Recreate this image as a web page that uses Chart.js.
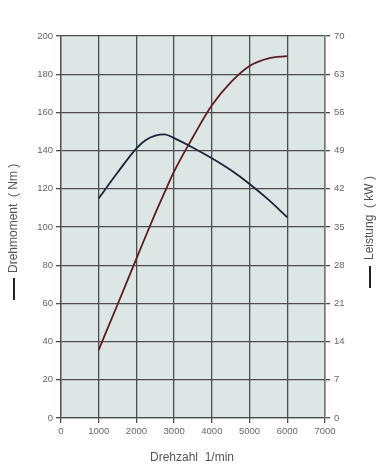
<!DOCTYPE html>
<html>
<head>
<meta charset="utf-8">
<script src="https://cdn.jsdelivr.net/npm/chart.js@4.4.0/dist/chart.umd.min.js"></script>
<style>
  html, body { margin: 0; padding: 0; background: #fff; }
  #wrap { width: 386px; height: 467px; }
</style>
</head>
<body>
<div id="wrap"><canvas id="motorChart" width="386" height="467"></canvas></div>
<script>
// Drehzahl in 1/min
const rpm = [1000, 1500, 2000, 2250, 2500, 2750, 3000, 3500, 4000, 4500, 5000, 5500, 6000];
// Drehmoment in Nm
const torque = [115, 128.5, 141.2, 145.5, 147.8, 148.5, 146.5, 141.5, 136, 129.8, 122.5, 114.3, 105];
// Leistung in kW
const power = [12.5, 20.8, 29.2, 33.4, 37.5, 41.4, 45.2, 51.5, 57.3, 61.5, 64.5, 65.9, 66.3];

const xTicks = [0, 1000, 2000, 3000, 4000, 5000, 6000, 7000];
const torqueTicks = [0, 20, 40, 60, 80, 100, 120, 140, 160, 180, 200];
const powerTicks = [0, 7, 14, 21, 28, 35, 42, 49, 56, 63, 70];

const tickFont = { family: 'Liberation Sans, Arial, sans-serif', size: 9.5 };
const tickColor = '#666';
const gridColor = '#4d4d4d';

function toPoints(ys) {
    return rpm.map((r, i) => ({ x: r, y: ys[i] }));
}

// background of the plot area and rotated axis titles
const decorPlugin = {
    id: 'decor',
    beforeDraw(chart) {
        const { ctx, chartArea: a } = chart;
        ctx.save();
        ctx.fillStyle = '#dce6e5';
        ctx.fillRect(a.left, a.top, a.right - a.left, a.bottom - a.top);
        ctx.restore();
    },
    afterDraw(chart) {
        const ctx = chart.ctx;
        ctx.save();
        ctx.fillStyle = '#555';
        ctx.strokeStyle = '#222';
        ctx.lineWidth = 2;
        ctx.font = '12px "Liberation Sans", Arial, sans-serif';

        // left title, reads bottom to top
        ctx.save();
        ctx.translate(18, 300);
        ctx.rotate(-Math.PI / 2);
        ctx.beginPath();
        ctx.moveTo(0, -4);
        ctx.lineTo(22, -4);
        ctx.stroke();
        ctx.textBaseline = 'middle';
        ctx.fillText('Drehmoment  ( Nm )', 27, -4);
        ctx.restore();

        // right title, reads bottom to top
        ctx.save();
        ctx.translate(374, 288);
        ctx.rotate(-Math.PI / 2);
        ctx.beginPath();
        ctx.moveTo(0, -4);
        ctx.lineTo(22, -4);
        ctx.stroke();
        ctx.textBaseline = 'middle';
        ctx.fillText('Leistung  ( kW )', 28, -4);
        ctx.restore();

        // x title
        ctx.textAlign = 'center';
        ctx.textBaseline = 'middle';
        ctx.fillText('Drehzahl  1/min', 192, 458);
        ctx.restore();
    }
};

new Chart(document.getElementById('motorChart'), {
    type: 'line',
    data: {
        datasets: [
            {
                label: 'Drehmoment',
                data: toPoints(torque),
                yAxisID: 'yTorque',
                borderColor: '#1e2436',
                borderWidth: 1.8,
                pointRadius: 0,
                cubicInterpolationMode: 'monotone'
            },
            {
                label: 'Leistung',
                data: toPoints(power),
                yAxisID: 'yPower',
                borderColor: '#5e1c22',
                borderWidth: 1.8,
                pointRadius: 0,
                cubicInterpolationMode: 'monotone'
            }
        ]
    },
    options: {
        responsive: false,
        animation: false,
        layout: { padding: { top: 36, left: 0, right: 0, bottom: 0 } },
        plugins: {
            legend: { display: false },
            tooltip: { enabled: false }
        },
        scales: {
            x: {
                type: 'linear',
                min: 0,
                max: 7000,
                afterFit(s) { s.height = 49; },
                afterBuildTicks(s) { s.ticks = xTicks.map(v => ({ value: v })); },
                ticks: { font: tickFont, color: tickColor, padding: 3, maxRotation: 0, callback: v => String(v) },
                grid: { color: gridColor, lineWidth: 1.3, tickLength: 5 },
                border: { color: gridColor, width: 1.3 }
            },
            yTorque: {
                position: 'left',
                min: 0,
                max: 200,
                afterFit(s) { s.width = 61; },
                afterBuildTicks(s) { s.ticks = torqueTicks.map(v => ({ value: v })); },
                ticks: { font: tickFont, color: tickColor, padding: 3, callback: v => String(v) },
                grid: { color: gridColor, lineWidth: 1.3, tickLength: 5 },
                border: { color: gridColor, width: 1.3 }
            },
            yPower: {
                position: 'right',
                min: 0,
                max: 70,
                afterFit(s) { s.width = 61; },
                afterBuildTicks(s) { s.ticks = powerTicks.map(v => ({ value: v })); },
                ticks: { font: tickFont, color: tickColor, padding: 4, callback: v => String(v) },
                grid: { drawOnChartArea: false, color: gridColor, lineWidth: 1.3, tickLength: 5 },
                border: { color: '#777', width: 1.5 }
            }
        }
    },
    plugins: [decorPlugin]
});
</script>
</body>
</html>
